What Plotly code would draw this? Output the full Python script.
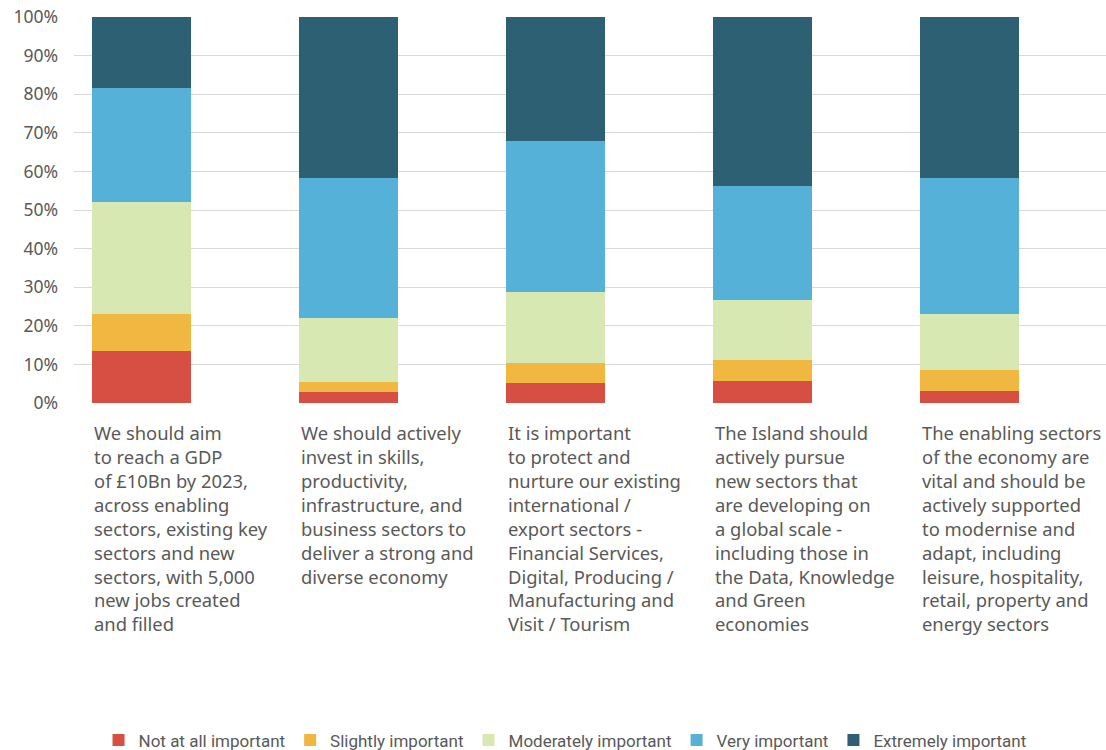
import plotly.graph_objects as go

categories = [
    "We should aim<br>to reach a GDP<br>of £10Bn by 2023,<br>across enabling<br>sectors, existing key<br>sectors and new<br>sectors, with 5,000<br>new jobs created<br>and filled",
    "We should actively<br>invest in skills,<br>productivity,<br>infrastructure, and<br>business sectors to<br>deliver a strong and<br>diverse economy",
    "It is important<br>to protect and<br>nurture our existing<br>international /<br>export sectors -<br>Financial Services,<br>Digital, Producing /<br>Manufacturing and<br>Visit / Tourism",
    "The Island should<br>actively pursue<br>new sectors that<br>are developing on<br>a global scale -<br>including those in<br>the Data, Knowledge<br>and Green<br>economies",
    "The enabling sectors<br>of the economy are<br>vital and should be<br>actively supported<br>to modernise and<br>adapt, including<br>leisure, hospitality,<br>retail, property and<br>energy sectors",
]

series_names = ["Not at all important", "Slightly important", "Moderately important",
                "Very important", "Extremely important"]
not_at_all = [13.4, 2.8, 5.1, 5.6, 3.0]
slightly = [9.6, 2.6, 5.2, 5.5, 5.5]
moderately = [29.0, 16.5, 18.4, 15.5, 14.5]
very = [29.5, 36.3, 39.3, 29.5, 35.2]
extremely = [18.5, 41.8, 32.0, 43.9, 41.8]

colors = ["#d64f42", "#f0b840", "#d7e8b3", "#56b1d9", "#2d6073"]
tick_vals = [0, 10, 20, 30, 40, 50, 60, 70, 80, 90, 100]
tick_text = ["0%", "10%", "20%", "30%", "40%", "50%", "60%", "70%", "80%", "90%", "100%"]

xs = list(range(len(categories)))
bar_w = 0.48
fig = go.Figure()
for name, vals, col in zip(series_names,
                           [not_at_all, slightly, moderately, very, extremely], colors):
    fig.add_trace(go.Bar(x=xs, y=vals, name=name, marker=dict(color=col, line=dict(width=0)),
                         width=bar_w))

for i, txt in enumerate(categories):
    fig.add_annotation(x=i - bar_w / 2, y=-0.0394, xref="x", yref="paper",
                       text=txt, showarrow=False, xanchor="left", yanchor="top",
                       align="left", font=dict(family="Noto Sans", size=18.4, color="#595959"))

fig.update_layout(
    barmode="stack",
    width=1106, height=800,
    margin=dict(l=74, r=0, t=17, b=397, autoexpand=False),
    plot_bgcolor="white", paper_bgcolor="white",
    font=dict(family="Noto Sans", color="#595959"),
    xaxis=dict(range=[-0.326, 4.659], showticklabels=False, showgrid=False, zeroline=False,
               showline=False, automargin=False),
    yaxis=dict(range=[0, 100], tickvals=tick_vals, ticktext=tick_text,
               showgrid=True, gridcolor="#d9d9d9", gridwidth=1, zeroline=False,
               showline=False, tickfont=dict(size=17.5, color="#595959"),
               ticks="", ticklabelstandoff=15, ticklabeloverflow="allow", automargin=False),
    legend=dict(orientation="h", x=0.4758, xanchor="center", y=-0.874, yanchor="middle",
                font=dict(family="Roboto", size=17, color="#595959"),
                itemwidth=30, traceorder="normal"),
    showlegend=True,
)
fig.write_html("out.html", config={"displayModeBar": False},
               post_script="document.body.style.margin='0px';")
